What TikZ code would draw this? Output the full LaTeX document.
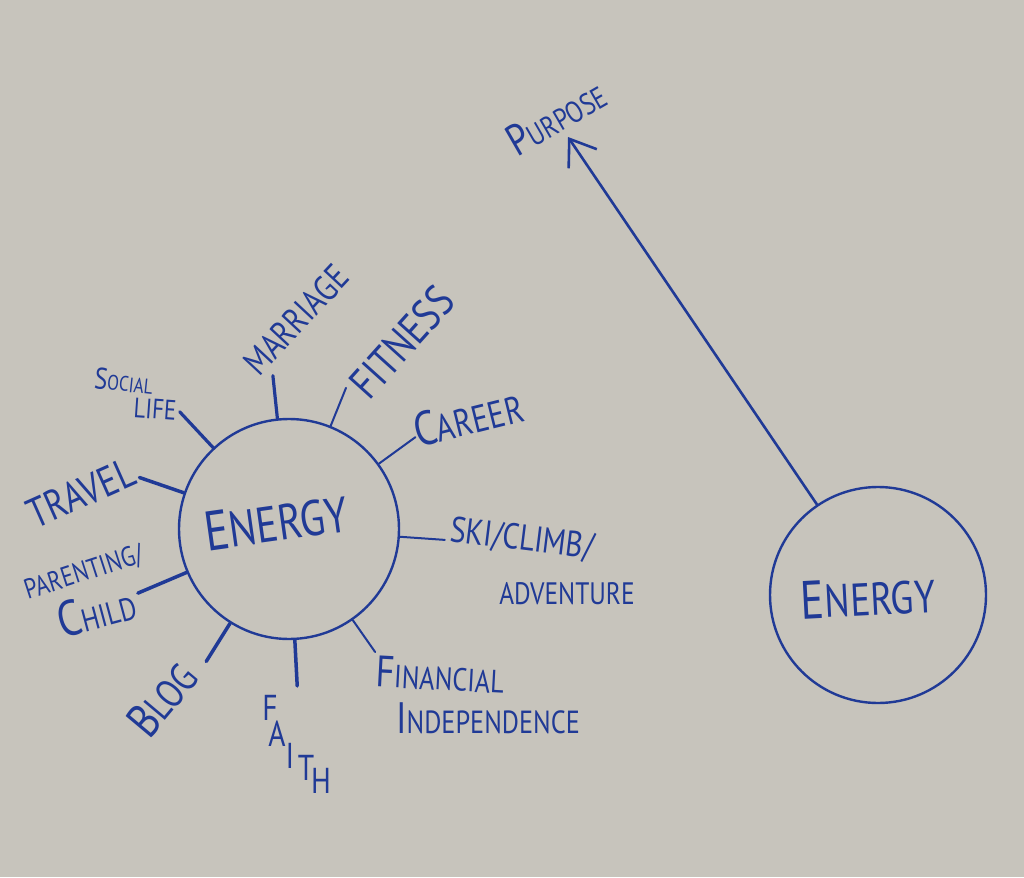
\documentclass[tikz,border=0pt]{standalone}
\usepackage{fontspec}
\newfontfamily\hand{PT Sans}[FakeStretch=0.82]
\usetikzlibrary{arrows.meta}
\definecolor{board}{RGB}{199,196,188}
\definecolor{ink}{RGB}{32,58,150}
\newcommand\hs[1]{\fontsize{#1}{#1}\selectfont}
\newcommand\inl[2]{{\hs{#1}#2}}
\tikzset{
  hub/.style={circle, draw=ink, line width=2.4pt, inner sep=0pt},
  lbl/.style={text=ink, inner sep=0pt, font=\hand},
  spoke/.style={draw=ink, line cap=round},
}
\begin{document}
\begin{tikzpicture}[x=1pt,y=1pt]
\fill[board] (0,0) rectangle (1024,-877);
\useasboundingbox (0,0) rectangle (1024,-877);

% left hub with its spokes
\node[hub, minimum size=220pt] (en) at (289,-529) {};
\node[lbl, rotate=8] (enl) at (276,-522) {\inl{56}{E}\hs{50}NERGY};

\foreach \a/\l/\w [count=\i] in {133/49/3.2, 96/43/3.2, 68/41/2, 36/45/2, -4/45/2,
    -55/39/2, -87/46/3.5, -122/45/3.5, -157/53/3.5, 161/47/3.5}
  \draw[spoke, line width=\w pt] (en.\a) -- ++(\a:\l) coordinate (tip\i);

\node[lbl, rotate=-6] (social) at (124,-381) {\inl{30}{S}\hs{21}OCIAL};
\node[lbl, rotate=-4] (life) at (155,-409) {\hs{28}LIFE};
\node[lbl, rotate=47] (marriage) at (296,-320) {\hs{36}MARRIAGE};
\node[lbl, rotate=48] (fitness) at (402,-342) {\hs{44}FITNESS};
\node[lbl, rotate=14] (career) at (468,-418) {\inl{48}{C}\hs{38}AREER};
\node[lbl, rotate=-7] (ski) at (522,-540) {\hs{36}SKI/CLIMB/};
\node[lbl] (adventure) at (567,-594) {\hs{31}ADVENTURE};
\node[lbl, rotate=-3] (financial) at (440,-675) {\inl{44}{F}\hs{32}INANCIAL};
\node[lbl] (independence) at (488,-718) {\inl{44}{I}\hs{32}NDEPENDENCE};
\foreach \c/\x/\y [count=\i] in {F/270/708, A/277/734, I/290/756, T/306/768, H/321/781}
  \node[lbl] (faith\i) at (\x,-\y) {\hs{36}\c};
\node[lbl, rotate=50] (blog) at (162,-699) {\inl{48}{B}\hs{40}LOG};
\node[lbl, rotate=18] (parenting) at (84,-573) {\hs{28}PARENTING/};
\node[lbl, rotate=15] (child) at (96,-611) {\inl{50}{C}\hs{32}HILD};
\node[lbl, rotate=24] (travel) at (81,-493) {\hs{42}TRAVEL};

% right hub pointing at purpose
\node[hub, minimum size=216pt] (en2) at (878,-595) {};
\node[lbl, rotate=3] (en2l) at (868,-597) {\inl{54}{E}\hs{46}NERGY};
\node[lbl, rotate=30] (purpose) at (556,-117) {\inl{44}{P}\hs{30}URPOSE};
\coordinate (aim) at (568,-137);
\draw[spoke, line width=2.6pt, -{Straight Barb[length=24pt,width=34pt]}] (en2.124) -- (aim);
\end{tikzpicture}
\end{document}
